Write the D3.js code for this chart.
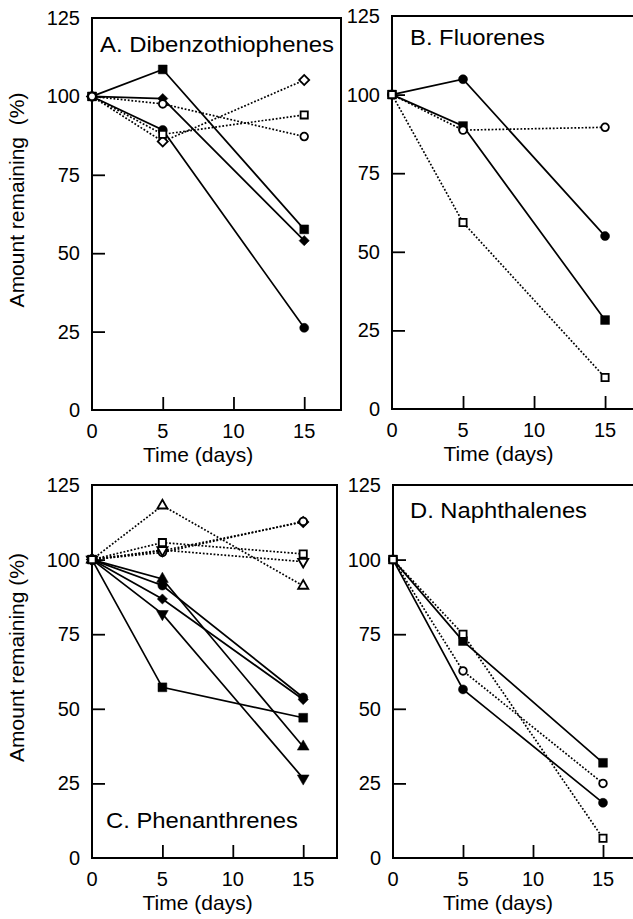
<!DOCTYPE html>
<html>
<head>
<meta charset="utf-8">
<script src="https://cdn.jsdelivr.net/npm/d3@7"></script>
<style>
  body { margin: 0; background: #fff; }
  text { font-family: "Liberation Sans", Arial, Helvetica, sans-serif; fill: #000; }
</style>
</head>
<body>
<div id="chart"></div>
<script>
// time points (days)
const days = [0, 5, 15];
const yTicks = [0, 25, 50, 75, 100, 125];
const xTicks = [0, 5, 10, 15];

// A. Dibenzothiophenes
const aSquareF = [100, 108.6, 57.6];
const aDiamondF = [100, 99.3, 54];
const aCircleF = [100, 89.3, 26.2];
const aDiamondO = [100, 85.6, 105.2];
const aSquareO = [100, 87.9, 94.1];
const aCircleO = [100, 97.6, 87.2];

// B. Fluorenes
const bCircleF = [100, 104.9, 55];
const bSquareF = [100, 90, 28.3];
const bCircleO = [100, 88.7, 89.6];
const bSquareO = [100, 59.3, 10];

// C. Phenanthrenes
const cTriUpF = [100, 93.5, 37.3];
const cCircleF = [100, 91.3, 53.8];
const cDiamondF = [100, 86.8, 53.1];
const cTriDownF = [100, 81.8, 26.7];
const cSquareF = [100, 57.2, 47];
const cTriUpO = [100, 118.1, 91.2];
const cDiamondO = [100, 103, 112.6];
const cCircleO = [100, 102.4, 112.8];
const cSquareO = [100, 105.7, 101.9];
const cTriDownO = [100, 103.2, 99.3];

// D. Naphthalenes
const dSquareF = [100, 72.7, 31.9];
const dCircleF = [100, 56.5, 18.5];
const dCircleO = [100, 62.7, 25];
const dSquareO = [100, 75, 6.6];

const panels = [
  { title: "A. Dibenzothiophenes", tlen: 234, left: 92, top: 18, w: 249, h: 392, xMax: 17.6,
    titleX: 8, titleY: 34, yLabel: "Amount remaining  (%)",
    series: [["square", true, aSquareF], ["diamond", true, aDiamondF], ["circle", true, aCircleF],
             ["diamond", false, aDiamondO], ["square", false, aSquareO], ["circle", false, aCircleO]] },
  { title: "B. Fluorenes", tlen: 135, left: 392, top: 16, w: 250, h: 393, xMax: 17.6,
    titleX: 18, titleY: 29, yLabel: null,
    series: [["circle", true, bCircleF], ["square", true, bSquareF],
             ["circle", false, bCircleO], ["square", false, bSquareO]] },
  { title: "C. Phenanthrenes", tlen: 192, left: 92, top: 485, w: 245, h: 373, xMax: 17.4,
    titleX: 14, titleY: 343, yLabel: "Amount remaining (%)",
    series: [["triUp", true, cTriUpF], ["circle", true, cCircleF], ["diamond", true, cDiamondF],
             ["triDown", true, cTriDownF], ["square", true, cSquareF],
             ["triUp", false, cTriUpO], ["diamond", false, cDiamondO], ["circle", false, cCircleO],
             ["triDown", false, cTriDownO], ["square", false, cSquareO]] },
  { title: "D. Naphthalenes", tlen: 177, left: 393, top: 485, w: 245, h: 373, xMax: 17.5,
    titleX: 17, titleY: 33, yLabel: null,
    series: [["square", true, dSquareF], ["circle", true, dCircleF],
             ["circle", false, dCircleO], ["square", false, dSquareO]] }
];

const svg = d3.select("#chart").append("svg")
  .attr("width", 633).attr("height", 919);

const symbols = {
  square: { type: d3.symbolSquare, size: { true: 78, false: 52 }, rot: 0 },
  circle: { type: d3.symbolCircle, size: { true: 64, false: 46 }, rot: 0 },
  diamond: { type: d3.symbolSquare, size: { true: 52, false: 50 }, rot: 45 },
  triUp: { type: d3.symbolTriangle, size: { true: 60, false: 44 }, rot: 0 },
  triDown: { type: d3.symbolTriangle, size: { true: 60, false: 44 }, rot: 180 }
};

panels.forEach(function(p) {
  const g = svg.append("g").attr("transform", "translate(" + p.left + "," + p.top + ")");
  const x = d3.scaleLinear().domain([0, p.xMax]).range([0, p.w]);
  const y = d3.scaleLinear().domain([0, 125]).range([p.h, 0]);

  // inward ticks
  const yAxis = d3.axisRight(y).tickValues([25, 50, 75, 100]).tickSize(13).tickFormat("");
  g.append("g").call(yAxis).call(s => s.select(".domain").remove())
    .selectAll("line").attr("stroke-width", 1.8);
  const xAxis = d3.axisTop(x).tickValues([5, 10, 15]).tickSize(13).tickFormat("");
  g.append("g").attr("transform", "translate(0," + p.h + ")").call(xAxis)
    .call(s => s.select(".domain").remove())
    .selectAll("line").attr("stroke-width", 1.8);

  // frame
  g.append("rect").attr("x", 0).attr("y", 0).attr("width", p.w).attr("height", p.h)
    .attr("fill", "none").attr("stroke", "#000").attr("stroke-width", 2);

  // tick labels
  g.selectAll(".ylab").data(yTicks).enter().append("text")
    .attr("x", -12).attr("y", d => y(d) + 7)
    .attr("text-anchor", "end").style("font-size", "20px").text(d => d);
  g.selectAll(".xlab").data(xTicks).enter().append("text")
    .attr("x", d => x(d)).attr("y", p.h + 28)
    .attr("text-anchor", "middle").style("font-size", "20px").text(d => d);

  g.append("text").attr("x", x(7.5)).attr("y", p.h + 52)
    .attr("text-anchor", "middle").style("font-size", "21px").text("Time (days)");

  if (p.yLabel) {
    g.append("text")
      .attr("transform", "translate(" + (-68) + "," + (y(62.5) - 14) + ") rotate(-90)")
      .attr("text-anchor", "middle").style("font-size", "21px")
      .style("white-space", "pre").text(p.yLabel);
  }

  g.append("text").attr("x", p.titleX).attr("y", p.titleY)
    .attr("textLength", p.tlen).attr("lengthAdjust", "spacingAndGlyphs")
    .style("font-size", "22px").text(p.title);

  const line = d3.line().x((d, i) => x(days[i])).y(d => y(d));

  // solid series first, dotted (open markers) on top
  const ordered = p.series.filter(s => s[1]).concat(p.series.filter(s => !s[1]));

  ordered.forEach(function(s) {
    g.append("path").datum(s[2]).attr("d", line)
      .attr("fill", "none").attr("stroke", "#000")
      .attr("stroke-width", 1.7)
      .attr("stroke-dasharray", s[1] ? null : "1.8,1.8");
  });

  ordered.forEach(function(s) {
    const sym = symbols[s[0]];
    const shape = d3.symbol().type(sym.type).size(sym.size[s[1]]);
    g.selectAll(null).data(s[2]).enter().append("path")
      .attr("d", shape)
      .attr("transform", (d, i) => "translate(" + x(days[i]) + "," + y(d) + ") rotate(" + sym.rot + ")")
      .attr("fill", s[1] ? "#000" : "#fff")
      .attr("stroke", "#000")
      .attr("stroke-width", s[1] ? 0.5 : 1.8);
  });
});
</script>
</body>
</html>
